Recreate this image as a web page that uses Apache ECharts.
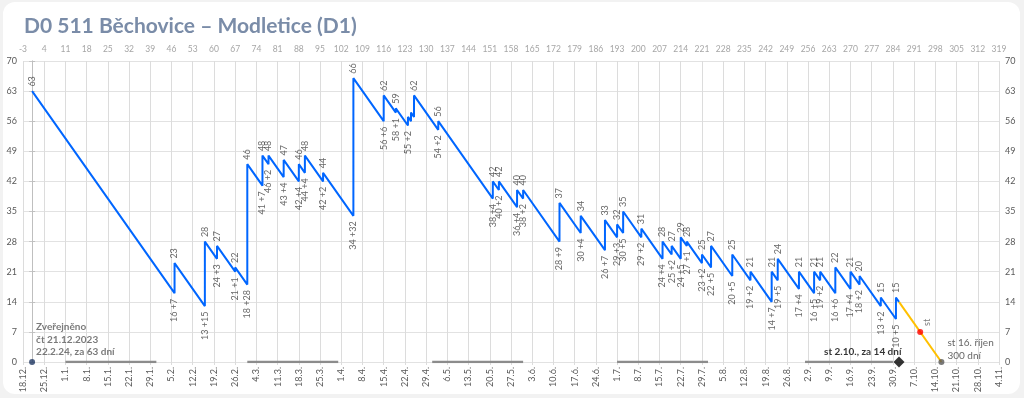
<!DOCTYPE html>
<html>
<head>
<meta charset="utf-8">
<script src="https://cdn.jsdelivr.net/npm/echarts@6/dist/echarts.min.js"></script>
<style>
  html, body { margin: 0; padding: 0; background: #f2f2f2; width: 1024px; height: 398px; overflow: hidden; }
  #card { position: absolute; left: 3px; top: 2px; width: 1017px; height: 392px; background: #fff; border-radius: 12px; }
  #chart { position: absolute; left: 0; top: 0; width: 1024px; height: 398px; }
</style>
</head>
<body>
<div id="card"></div>
<div id="chart"></div>
<script>
// Days counted from publication (21.12.2023 = day 0)
const startDay = 0;
const startValue = 63;
const jumpDays = [47, 57, 61, 67, 71, 76, 78, 83, 88, 90, 96, 106, 116, 120, 124, 125, 126, 134, 152, 154, 160, 162, 174, 181, 189, 193, 195, 201, 208, 211, 214, 216, 221, 224, 231, 237, 244, 246, 253, 258, 260, 265, 270, 273, 280, 285];
const lowValues = [16, 13, 24, 21, 18, 41, 46, 43, 42, 44, 42, 34, 56, 58, 55, 56, 57, 54, 38, 40, 36, 38, 28, 30, 26, 29, 30, 29, 24, 25, 24, 27, 23, 22, 20, 19, 14, 19, 17, 16, 19, 16, 17, 18, 13, 10];
const highValues = [23, 28, 27, 22, 46, 48, 48, 47, 46, 48, 44, 66, 62, 59, 57, 58, 62, 56, 42, 42, 40, 40, 37, 34, 33, 32, 35, 31, 28, 27, 29, 28, 25, 27, 25, 21, 21, 24, 21, 21, 21, 22, 21, 20, 15, 15];
const hiddenPeakDays = [124, 125];
const hiddenLowDays = [125, 126];
const todayPoint = [286, 14];
const forecastLine = [[286, 14], [300, 0]];
const midPoint = [293, 7];
const endPoint = [300, 0];
const todayMarker = [286, 0];
const publishPoint = [0, 0];
const monthBars = [[11, 41], [71, 101], [132, 162], [193, 223], [255, 284]];
const xMin = -3, xMax = 319, xStep = 7;
const yMin = 0, yMax = 70, yStep = 7;
const baseDate = Date.UTC(2023, 11, 21);

const FONT = 'Lato, "Open Sans", sans-serif';
const labelColor = '#404040';

const peakLabel = { show: true, position: 'top', distance: 4, rotate: 90, align: 'left', verticalAlign: 'middle', fontSize: 9, color: labelColor, fontFamily: FONT };
const lowLabel = { show: true, position: 'bottom', distance: 5, rotate: 90, align: 'right', verticalAlign: 'middle', fontSize: 9, color: labelColor, fontFamily: FONT };

// line path
const lineData = [[startDay, startValue]];
// label points
const labelData = [{ value: [startDay, startValue], label: Object.assign({}, peakLabel, { formatter: String(startValue) }) }];
jumpDays.forEach((d, i) => {
  const lo = lowValues[i], hi = highValues[i];
  lineData.push([d, lo]);
  lineData.push([d, hi]);
  if (!hiddenLowDays.includes(d)) {
    labelData.push({ value: [d, lo], label: Object.assign({}, lowLabel, { formatter: lo + ' +' + (hi - lo) }) });
  }
  if (!hiddenPeakDays.includes(d)) {
    labelData.push({ value: [d, hi], label: Object.assign({}, peakLabel, { formatter: String(hi) }) });
  }
});
lineData.push(todayPoint);

function fmtDate(v) {
  const dt = new Date(baseDate + v * 86400000);
  return dt.getUTCDate() + '.' + (dt.getUTCMonth() + 1) + '.';
}

const gridLine = { show: true, lineStyle: { color: '#dcdcdc', width: 1 } };

const series = [];
monthBars.forEach(b => {
  series.push({
    type: 'line', xAxisIndex: 0, yAxisIndex: 0, data: [[b[0], 0], [b[1], 0]],
    symbol: 'none', lineStyle: { color: '#8c8c8c', width: 2.5 }, silent: true, z: 3
  });
});
series.push({
  type: 'line', xAxisIndex: 0, yAxisIndex: 0, data: lineData,
  symbol: 'none', lineStyle: { color: '#0066ff', width: 2 }, z: 5
});
series.push({
  type: 'scatter', xAxisIndex: 0, yAxisIndex: 0, data: labelData,
  symbol: 'circle', symbolSize: 1, itemStyle: { color: 'rgba(0,0,0,0)' },
  labelLayout: { hideOverlap: false }, silent: true, z: 8
});
series.push({
  type: 'line', xAxisIndex: 0, yAxisIndex: 0, data: forecastLine,
  symbol: 'none', lineStyle: { color: '#ffc000', width: 2 }, z: 4
});
series.push({
  type: 'scatter', xAxisIndex: 0, yAxisIndex: 0, symbolSize: 6, z: 6,
  data: [{ value: midPoint, itemStyle: { color: '#ff0000' },
    label: { show: true, position: [10, -3], rotate: 90, align: 'left', verticalAlign: 'middle', formatter: 'st', fontSize: 9, color: '#595959', fontFamily: FONT } }]
});
series.push({
  type: 'scatter', xAxisIndex: 0, yAxisIndex: 0, symbolSize: 6, z: 6,
  data: [{ value: endPoint, itemStyle: { color: '#595959' },
    label: { show: true, position: [9, -22], align: 'left', verticalAlign: 'top', lineHeight: 12.5, formatter: 'st 16. říjen\n300 dní', fontSize: 10, color: '#404040', fontFamily: FONT } }]
});
series.push({
  type: 'scatter', xAxisIndex: 0, yAxisIndex: 0, symbol: 'diamond', symbolSize: 11, z: 7,
  data: [{ value: todayMarker, itemStyle: { color: '#000000' },
    label: { show: true, position: [8, -5], align: 'right', verticalAlign: 'middle', formatter: 'st 2.10., za 14 dní', fontSize: 10, fontWeight: 'bold', color: '#000', fontFamily: FONT } }]
});
series.push({
  type: 'scatter', xAxisIndex: 0, yAxisIndex: 0, symbolSize: 6, z: 7,
  data: [{ value: publishPoint, itemStyle: { color: '#203864' },
    label: { show: true, position: [7, -38], align: 'left', verticalAlign: 'top', lineHeight: 12.5, formatter: 'Zveřejněno\nčt 21.12.2023\n22.2.24, za 63 dní', fontSize: 10, fontWeight: 'bold', color: '#595959', fontFamily: FONT } }]
});

const chart = echarts.init(document.getElementById('chart'), null, { renderer: 'canvas' });
chart.setOption({
  backgroundColor: 'transparent',
  animation: false,
  title: {
    text: 'D0 511 Běchovice – Modletice (D1)', left: 19, top: 11,
    textStyle: { fontSize: 21, fontWeight: 'bold', color: '#7a8ca8', fontFamily: FONT }
  },
  grid: { left: 23, right: 25, top: 61, bottom: 36, containLabel: false, outerBoundsMode: 'none' },
  xAxis: [
    {
      type: 'value', position: 'bottom', min: xMin, max: xMax, interval: xStep,
      axisLine: { show: false }, axisTick: { show: true, length: 3, lineStyle: { color: '#dcdcdc' } },
      axisLabel: { rotate: 90, margin: 5, fontSize: 9, color: '#595959', fontFamily: FONT, formatter: fmtDate, showMinLabel: true, showMaxLabel: true },
      splitLine: gridLine
    },
    {
      type: 'value', position: 'top', min: xMin, max: xMax, interval: xStep,
      axisLine: { show: false }, axisTick: { show: true, length: 3, lineStyle: { color: '#dcdcdc' } },
      axisLabel: { margin: 7, fontSize: 8.5, color: '#a6a6a6', fontFamily: FONT, showMinLabel: true, showMaxLabel: true },
      splitLine: { show: false }
    }
  ],
  yAxis: [
    {
      type: 'value', position: 'left', min: yMin, max: yMax, interval: yStep,
      axisLine: { show: true, lineStyle: { color: '#d0d0d0' } }, axisTick: { show: true, length: 3, lineStyle: { color: '#c8c8c8' } },
      axisLabel: { margin: 6, fontSize: 9, color: '#595959', fontFamily: FONT },
      splitLine: { show: true, lineStyle: { color: '#e2e2e2' } }
    },
    {
      type: 'value', position: 'right', min: yMin, max: yMax, interval: yStep,
      axisLine: { show: true, lineStyle: { color: '#bfbfbf' } }, axisTick: { show: true, length: 3, lineStyle: { color: '#bfbfbf' } },
      axisLabel: { margin: 6, fontSize: 9, color: '#595959', fontFamily: FONT },
      splitLine: { show: false }
    }
  ],
  series: series
});
</script>
</body>
</html>
